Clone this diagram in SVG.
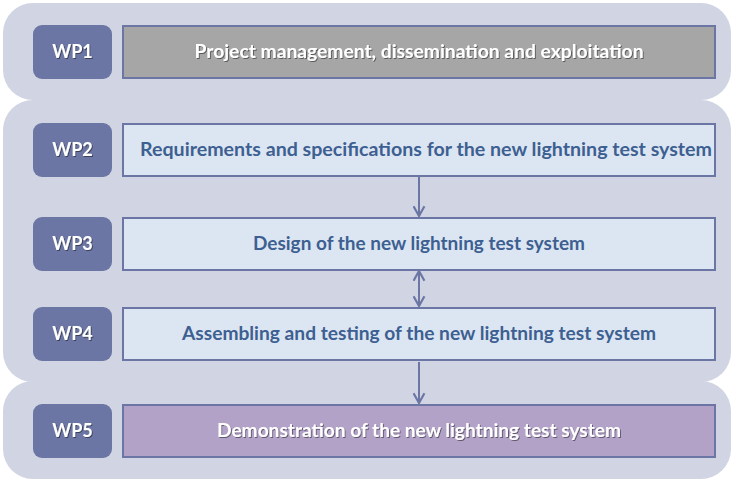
<svg xmlns="http://www.w3.org/2000/svg" width="734" height="482" viewBox="0 0 734 482">
<style>
.panel{fill:#d1d5e3}
.wp{fill:#6b76a4}
.wpt{font-family:Lato,"Liberation Sans",sans-serif;font-weight:bold;font-size:18px;fill:#ffffff;text-anchor:middle}
.box{stroke:#6b76a4;stroke-width:2}
.blue{fill:#dce6f2}
.t{font-family:Lato,"Liberation Sans",sans-serif;font-weight:bold;font-size:18px;text-anchor:middle}
.tb{fill:#3d5f91}
.tw{fill:#ffffff}
.conn{stroke:#6b76a4;stroke-width:2;fill:none}
</style>
<defs>
<filter id="sh" x="-10%" y="-30%" width="120%" height="160%">
<feDropShadow dx="1" dy="1" stdDeviation="0.6" flood-color="#000" flood-opacity="0.45"/>
</filter>
<marker id="ah" viewBox="0 0 12 12" refX="11" refY="6" markerWidth="6.5" markerHeight="6.5" orient="auto-start-reverse" markerUnits="strokeWidth">
<polyline points="2,1 11,6 2,11" fill="none" stroke="#6b76a4" stroke-width="2"/>
</marker>
</defs>
<rect width="734" height="482" fill="#ffffff"/>
<g id="panels">
<rect class="panel" x="3" y="3" width="728" height="97" rx="30"/>
<rect class="panel" x="3" y="100" width="728" height="282" rx="30"/>
<rect class="panel" x="3" y="381" width="728" height="98" rx="30"/>
</g>
<g id="connectors">
<line class="conn" x1="419" y1="177" x2="419" y2="216" marker-end="url(#ah)"/>
<line class="conn" x1="419" y1="271" x2="419" y2="306" marker-start="url(#ah)" marker-end="url(#ah)"/>
<line class="conn" x1="419" y1="362" x2="419" y2="403" marker-end="url(#ah)"/>
</g>
<g id="wp1">
<rect class="wp" x="33" y="25" width="79" height="54" rx="9"/>
<text class="wpt" x="72.5" y="58" filter="url(#sh)">WP1</text>
<rect class="box" x="123" y="26" width="592" height="52" fill="#a6a6a6"/>
<text class="t tw" x="419" y="58" textLength="449" lengthAdjust="spacingAndGlyphs" filter="url(#sh)">Project management, dissemination and exploitation</text>
</g>
<g id="wp2">
<rect class="wp" x="33" y="123" width="79" height="54" rx="9"/>
<text class="wpt" x="72.5" y="156" filter="url(#sh)">WP2</text>
<rect class="box blue" x="123" y="124" width="592" height="52"/>
<text class="t tb" x="426" y="156" textLength="572" lengthAdjust="spacingAndGlyphs">Requirements and specifications for the new lightning test system</text>
</g>
<g id="wp3">
<rect class="wp" x="33" y="217" width="79" height="54" rx="9"/>
<text class="wpt" x="72.5" y="250" filter="url(#sh)">WP3</text>
<rect class="box blue" x="123" y="218" width="592" height="52"/>
<text class="t tb" x="419" y="250" textLength="332" lengthAdjust="spacingAndGlyphs">Design of the new lightning test system</text>
</g>
<g id="wp4">
<rect class="wp" x="33" y="307" width="79" height="54" rx="9"/>
<text class="wpt" x="72.5" y="340" filter="url(#sh)">WP4</text>
<rect class="box blue" x="123" y="308" width="592" height="52"/>
<text class="t tb" x="419" y="340" textLength="474" lengthAdjust="spacingAndGlyphs">Assembling and testing of the new lightning test system</text>
</g>
<g id="wp5">
<rect class="wp" x="33" y="404" width="79" height="54" rx="9"/>
<text class="wpt" x="72.5" y="437" filter="url(#sh)">WP5</text>
<rect class="box" x="123" y="405" width="592" height="52" fill="#b3a2c8"/>
<text class="t tw" x="419" y="437" textLength="404" lengthAdjust="spacingAndGlyphs" filter="url(#sh)">Demonstration of the new lightning test system</text>
</g>
</svg>
